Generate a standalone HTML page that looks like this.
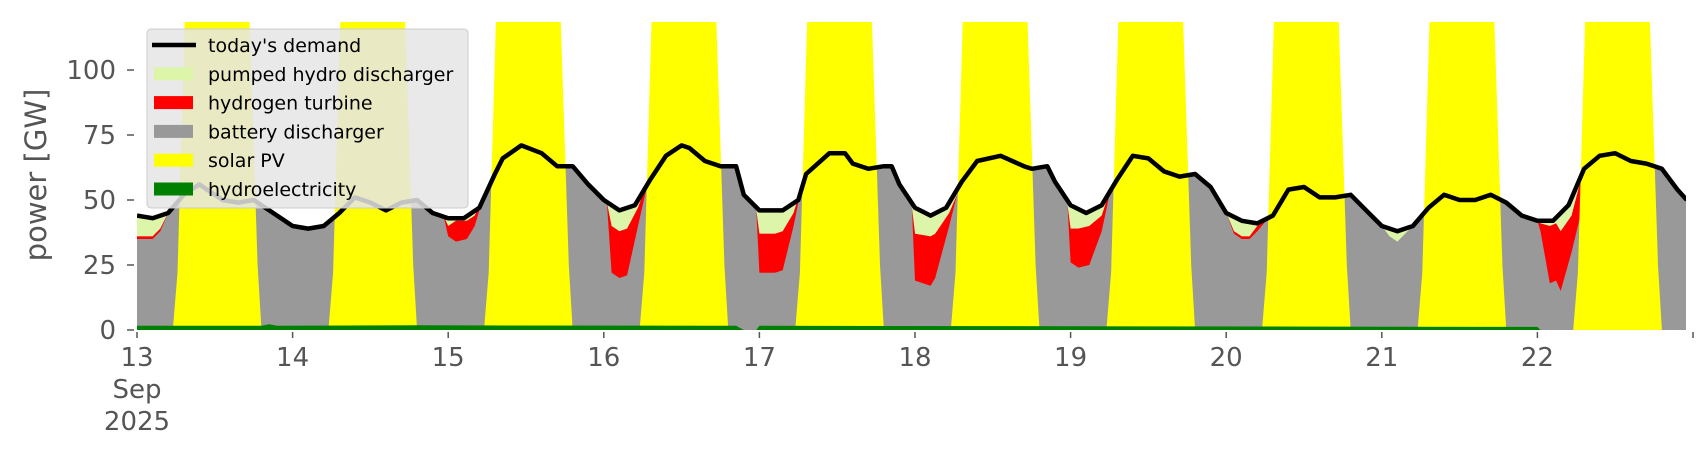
<!DOCTYPE html>
<html><head><meta charset="utf-8"><style>
html,body{margin:0;padding:0;background:#fff;width:1706px;height:460px;overflow:hidden}
svg{display:block}
text{font-family:"DejaVu Sans","Liberation Sans",sans-serif}
</style></head><body>
<svg id="s" width="1706" height="460" xmlns="http://www.w3.org/2000/svg">
<defs><clipPath id="c"><rect x="137" y="22" width="1549" height="308"/></clipPath></defs>
<g id="plot" clip-path="url(#c)"></g>
<g id="axes" fill="#555" font-size="26"></g>
<text x="0" y="0" transform="translate(46,175) rotate(-90)" text-anchor="middle" font-size="29" fill="#555">power [GW]</text>
<g id="leg"></g>
</svg>
<script>
const X=d=>137+(d-13)*155.6, Y=v=>330-v*2.6;
const D=[[13,44],[13.1,43],[13.2,45],[13.3,52],[13.4,56],[13.55,50],[13.65,49],[13.75,50],[13.85,46],[14,40],[14.1,39],[14.2,40],[14.3,45],[14.4,51],[14.5,49],[14.6,46],[14.7,49],[14.8,50],[14.9,45],[15,43],[15.1,43],[15.2,47],[15.3,60],[15.35,66],[15.47,71],[15.6,68],[15.7,63],[15.8,63],[15.9,56],[16,50],[16.1,46],[16.2,48],[16.3,58],[16.4,67],[16.5,71],[16.55,70],[16.65,65],[16.75,63],[16.85,63],[16.9,52],[17,46],[17.15,46],[17.25,50],[17.3,60],[17.45,68],[17.55,68],[17.6,64],[17.7,62],[17.8,63],[17.85,63],[17.9,56],[18,47],[18.1,44],[18.2,47],[18.3,57],[18.4,65],[18.55,67],[18.7,63],[18.75,62],[18.85,63],[18.9,57],[19,48],[19.1,45],[19.2,48],[19.3,58],[19.4,67],[19.5,66],[19.6,61],[19.7,59],[19.8,60],[19.9,55],[20,45],[20.1,42],[20.2,41],[20.3,44],[20.4,54],[20.5,55],[20.6,51],[20.7,51],[20.8,52],[20.9,46],[21,40],[21.1,38],[21.2,40],[21.3,47],[21.4,52],[21.5,50],[21.6,50],[21.7,52],[21.8,49],[21.9,44],[22,42],[22.1,42],[22.2,48],[22.3,62],[22.4,67],[22.5,68],[22.6,65],[22.7,64],[22.8,62],[22.9,54],[22.96,50]];
function dem(t){for(let i=0;i<D.length-1;i++){if(t>=D[i][0]&&t<=D[i+1][0]){const f=(t-D[i][0])/(D[i+1][0]-D[i][0]);return D[i][1]+f*(D[i+1][1]-D[i][1]);}}return t<13?D[0][1]:D[D.length-1][1];}
const P=document.getElementById('plot');
function poly(pts,fill,extra){const p=document.createElementNS('http://www.w3.org/2000/svg','polygon');p.setAttribute('points',pts.map(q=>q[0].toFixed(1)+','+q[1].toFixed(1)).join(' '));p.setAttribute('fill',fill);if(extra)p.setAttribute('stroke',extra);P.appendChild(p);}
// grey base
let g=[[X(13),Y(0)]];D.forEach(q=>g.push([X(q[0]),Y(q[1])]));g.push([X(22.96),Y(0)]);poly(g,'#999');
const N=[
[[13.0,35,36],[13.1,35,36],[13.15,38,39],[13.2,45,45]],
[[14.97,44,44],[15.0,36,40],[15.05,34,42],[15.12,35,42],[15.17,40,44],[15.22,50,50]],
[[16.02,49,49],[16.05,22,40],[16.1,20,38],[16.15,21,39],[16.22,40,47],[16.28,56,57]],
[[16.98,46,46],[17.0,22,37],[17.1,22,37],[17.15,23,38],[17.22,40,45],[17.27,55,55]],
[[17.98,47,47],[18.0,19,37],[18.1,17,36],[18.13,20,37],[18.22,40,45],[18.27,52,52]],
[[18.98,48,48],[19.0,26,39],[19.05,24,39],[19.12,25,40],[19.2,38,44],[19.26,55,55]],
[[20.0,45,45],[20.05,37,38],[20.1,35,36],[20.15,35,36],[20.2,38,40],[20.27,43,43]],
[[21.0,40,40],[21.05,36,36],[21.1,34,34],[21.15,37,37],[21.2,40,40]],
[[22.0,42,42],[22.02,38,41],[22.08,18,40],[22.12,19,41],[22.15,15,38],[22.22,30,44],[22.28,45,58],[22.3,62,62]]];
N.forEach(n=>{const t0=n[0][0],t1=n[n.length-1][0];let pu=[];for(let t=t0;t<=t1+1e-6;t+=0.01)pu.push([X(t),Y(dem(t))]);for(let i=n.length-1;i>=0;i--)pu.push([X(n[i][0]),Y(n[i][2])]);poly(pu,'#dcf5a8');
let r=n.map(q=>[X(q[0]),Y(q[2])]);for(let i=n.length-1;i>=0;i--)r.push([X(n[i][0]),Y(n[i][1])]);poly(r,'#f00');});
// solar
for(let d=13;d<=22;d++){poly([[X(d+0.23),Y(0)],[X(d+0.26),Y(22)],[X(d+0.31),Y(125)],[X(d+0.72),Y(125)],[X(d+0.775),Y(25)],[X(d+0.80),Y(0)]],'#ff0');}
// hydro
poly([[X(13),Y(0)],[X(13),Y(1.6)],[X(13.8),Y(1.6)],[X(13.85),Y(2.2)],[X(13.9),Y(1.6)],[X(14.8),Y(1.8)],[X(16.85),Y(1.6)],[X(16.9),Y(0)]],'#008000');
poly([[X(16.98),Y(0)],[X(17),Y(1.6)],[X(22),Y(1.2)],[X(22.02),Y(0)]],'#008000');
// demand
const pl=document.createElementNS('http://www.w3.org/2000/svg','polyline');pl.setAttribute('points',D.map(q=>X(q[0]).toFixed(1)+','+Y(q[1]).toFixed(1)).join(' '));pl.setAttribute('fill','none');pl.setAttribute('stroke','#000');pl.setAttribute('stroke-width','4.5');pl.setAttribute('stroke-linejoin','round');P.appendChild(pl);
// axes
const A=document.getElementById('axes');let h='';
[0,25,50,75,100].forEach(v=>{const y=Y(v);h+=`<line x1="127" x2="134" y1="${y}" y2="${y}" stroke="#555" stroke-width="1.5"/><text x="116" y="${y+9}" text-anchor="end">${v}</text>`;});
for(let d=13;d<=23;d++){const x=X(d);h+=`<line x1="${x}" x2="${x}" y1="332" y2="338" stroke="#555" stroke-width="1.5"/>`;if(d<23)h+=`<text x="${x}" y="366" text-anchor="middle">${d}</text>`;}
h+=`<text x="${X(13)}" y="398" text-anchor="middle">Sep</text><text x="${X(13)}" y="430" text-anchor="middle">2025</text>`;
A.innerHTML=h;
// legend
const L=document.getElementById('leg');let lh=`<rect x="147" y="29" width="321" height="179" rx="4" fill="#e5e5e5" fill-opacity="0.85" stroke="#ccc"/>`;
const it=[['today\'s demand',null],['pumped hydro discharger','#dcf5a8'],['hydrogen turbine','#f00'],['battery discharger','#999'],['solar PV','#ff0'],['hydroelectricity','#008000']];
it.forEach((e,i)=>{const y=45+i*28.8;if(!e[1])lh+=`<line x1="152" x2="196" y1="${y}" y2="${y}" stroke="#000" stroke-width="4.5"/>`;else lh+=`<rect x="154" y="${y-6.5}" width="39" height="13" fill="${e[1]}"/>`;lh+=`<text x="208" y="${y+7}" font-size="19" fill="#000">${e[0]}</text>`;});
L.innerHTML=lh;
</script>
</body></html>
